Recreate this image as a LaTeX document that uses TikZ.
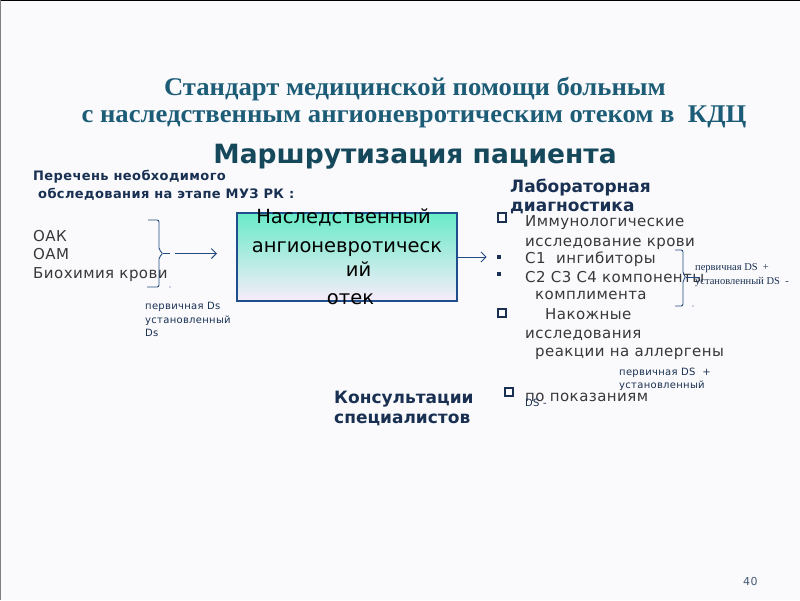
\documentclass[tikz,border=0pt]{standalone}
\usepackage{fontspec}
\setmainfont{DejaVu Sans}
\newfontfamily\titlefont[FakeStretch=1.045]{Liberation Serif}
\newfontfamily\smallserif{Liberation Serif}
\newfontfamily\spacedfont[LetterSpace=3]{DejaVu Sans}
\usetikzlibrary{arrows.meta, positioning, calc}

\definecolor{titleteal}{RGB}{28,92,118}
\definecolor{headteal}{RGB}{22,72,92}
\definecolor{navy}{RGB}{25,48,82}
\definecolor{listgray}{RGB}{55,55,60}
\definecolor{linkblue}{RGB}{35,75,130}
\definecolor{boxedge}{RGB}{30,78,140}
\definecolor{boxtop}{RGB}{105,235,200}
\definecolor{boxbottom}{RGB}{248,236,250}
\definecolor{slidebg}{RGB}{250,250,252}

\begin{document}
\begin{tikzpicture}[
    x=1pt, y=-1pt, % one unit = one pixel of the slide, y going down
    every node/.style={inner sep=0pt, anchor=base west}, % text is placed by its baseline
    title/.style={font={\titlefont\bfseries\fontsize{25.5}{25.5}\selectfont}, text=titleteal, anchor=base},
    heading/.style={font={\bfseries\fontsize{26.5}{26.5}\selectfont}, text=headteal, anchor=base},
    subhead/.style={font={\bfseries\fontsize{17}{17}\selectfont}, text=navy},
    needhead/.style={font={\spacedfont\bfseries\fontsize{13}{13}\selectfont}, text=navy},
    listitem/.style={font={\spacedfont\fontsize{15}{15}\selectfont}, text=listgray},
    boxtext/.style={font={\fontsize{19.5}{19.5}\selectfont}, text=black, anchor=base},
    note/.style={font={\spacedfont\fontsize{10}{10}\selectfont}, text=navy},
    serifnote/.style={font={\smallserif\fontsize{10.5}{10.5}\selectfont}, text=navy},
    checkbox/.style={draw=navy, line width=2pt, minimum size=8.5pt, anchor=center, fill=white},
    bullet/.style={fill=navy, minimum size=4.5pt, anchor=center},
    bracket/.style={draw=linkblue, line width=0.9pt, rounded corners=2pt},
    link/.style={draw=linkblue, line width=0.9pt, -{Straight Barb[length=5pt, width=10pt]}},
    box/.style={draw=boxedge, line width=2pt, minimum width=220pt, minimum height=88pt,
      top color=boxtop, bottom color=boxbottom, anchor=center},
  ]

  % slide background and frame
  \useasboundingbox (0,0) rectangle (800,600);
  \fill[slidebg] (0,0) rectangle (800,600);
  \draw[black, line width=2pt] (0,0) -- (800,0);
  \draw[gray, line width=2pt] (0,0) -- (0,600);

  % titles
  \node[title] (t1) at (415,95) {Стандарт медицинской помощи больным};
  \node[title] (t2) at (414,122) {с наследственным ангионевротическим отеком в\ \ КДЦ};
  \node[heading] (route) at (415,163) {Маршрутизация пациента};

  % left column
  \node[needhead] (need1) at (33,180) {Перечень необходимого};
  \node[needhead] (need2) at (38,198) {обследования на этапе МУЗ РК :};
  \node[listitem] (oak) at (33,241) {ОАК};
  \node[listitem] (oam) at (33,259) {ОАМ};
  \node[listitem] (bio) at (33,278) {Биохимия крови};
  \draw[bracket] (148,220) -- (159,220) -- (159,250) -- (163,253.5) -- (159,257) -- (159,287) -- (147,287);
  \coordinate (tipA) at (163,253.5);
  \fill[linkblue] (170,287) circle (0.7pt);
  \node[note] (ds1) at (145,309) {первичная Ds};
  \node[note] (ds2) at (145,323) {установленный};
  \node[note] (ds3) at (145,336) {Ds};

  % central box
  \node[box] (box) at (347,257) {};
  \node[boxtext] (bt1) at (343.5,223) {Наследственный};
  \node[boxtext] (bt2) at (347,252) {ангионевротическ};
  \node[boxtext] (bt3) at (358.5,276) {ий};
  \node[boxtext] (bt4) at (350.5,304) {отек};

  \draw[linkblue, line width=0.9pt] (tipA) -- ++(7,0);
  \draw[link, shorten <=12pt, shorten >=19pt] (tipA) -- (tipA -| box.west);

  % laboratory column
  \node[subhead] (lab1) at (510,192) {Лабораторная};
  \node[subhead] (lab2) at (510,211) {диагностика};
  \node[checkbox] (cb1) at (502,217.5) {};
  \node[listitem] (imm1) at (525,226) {Иммунологические};
  \node[listitem] (imm2) at (525,246) {исследование крови};
  \node[bullet] (bul1) at (499,257) {};
  \node[listitem] (c1) at (525,263) {С1\ \ ингибиторы};
  \node[bullet] (bul2) at (499,274) {};
  \node[listitem] (c2) at (525,282) {С2 С3 С4 компоненты};
  \node[listitem] (c3) at (535,299) {комплимента};
  \node[checkbox] (cb2) at (502,313) {};
  \node[listitem] (skin1) at (545,319) {Накожные};
  \node[listitem] (skin2) at (525,338) {исследования};
  \node[listitem] (skin3) at (535,356) {реакции на аллергены};

  \draw[link, shorten >=10pt] (box.east) -- (box.east -| bul1.west);

  \draw[bracket] (675,250) -- (683,250) -- (683,274) -- (686,277) -- (683,280) -- (683,306) -- (675,306);
  \coordinate (tipB) at (686,277);
  \draw[linkblue, line width=0.9pt] (tipB) -- ++(14,0);
  \fill[linkblue] (693,306) circle (0.7pt);
  \node[serifnote] (dsB1) at (695,270) {первичная DS\ \ +};
  \node[serifnote] (dsB2) at (695,284) {установленный DS\ \ -};

  % consultations
  \node[subhead] (cons1) at (334,403) {Консультации};
  \node[subhead] (cons2) at (334,423) {специалистов};
  \node[checkbox] (cb3) at (509,392) {};
  \node[listitem] (indic) at (525,401) {по показаниям};
  \node[note] (dsC1) at (619,375) {первичная DS\ \ +};
  \node[note] (dsC2) at (619,388) {установленный};
  \node[note] (dsC3) at (525,406) {DS -};

  % page number
  \node[note, font={\spacedfont\fontsize{11}{11}\selectfont}, text=navy!80] (page) at (743,585) {40};

\end{tikzpicture}
\end{document}
